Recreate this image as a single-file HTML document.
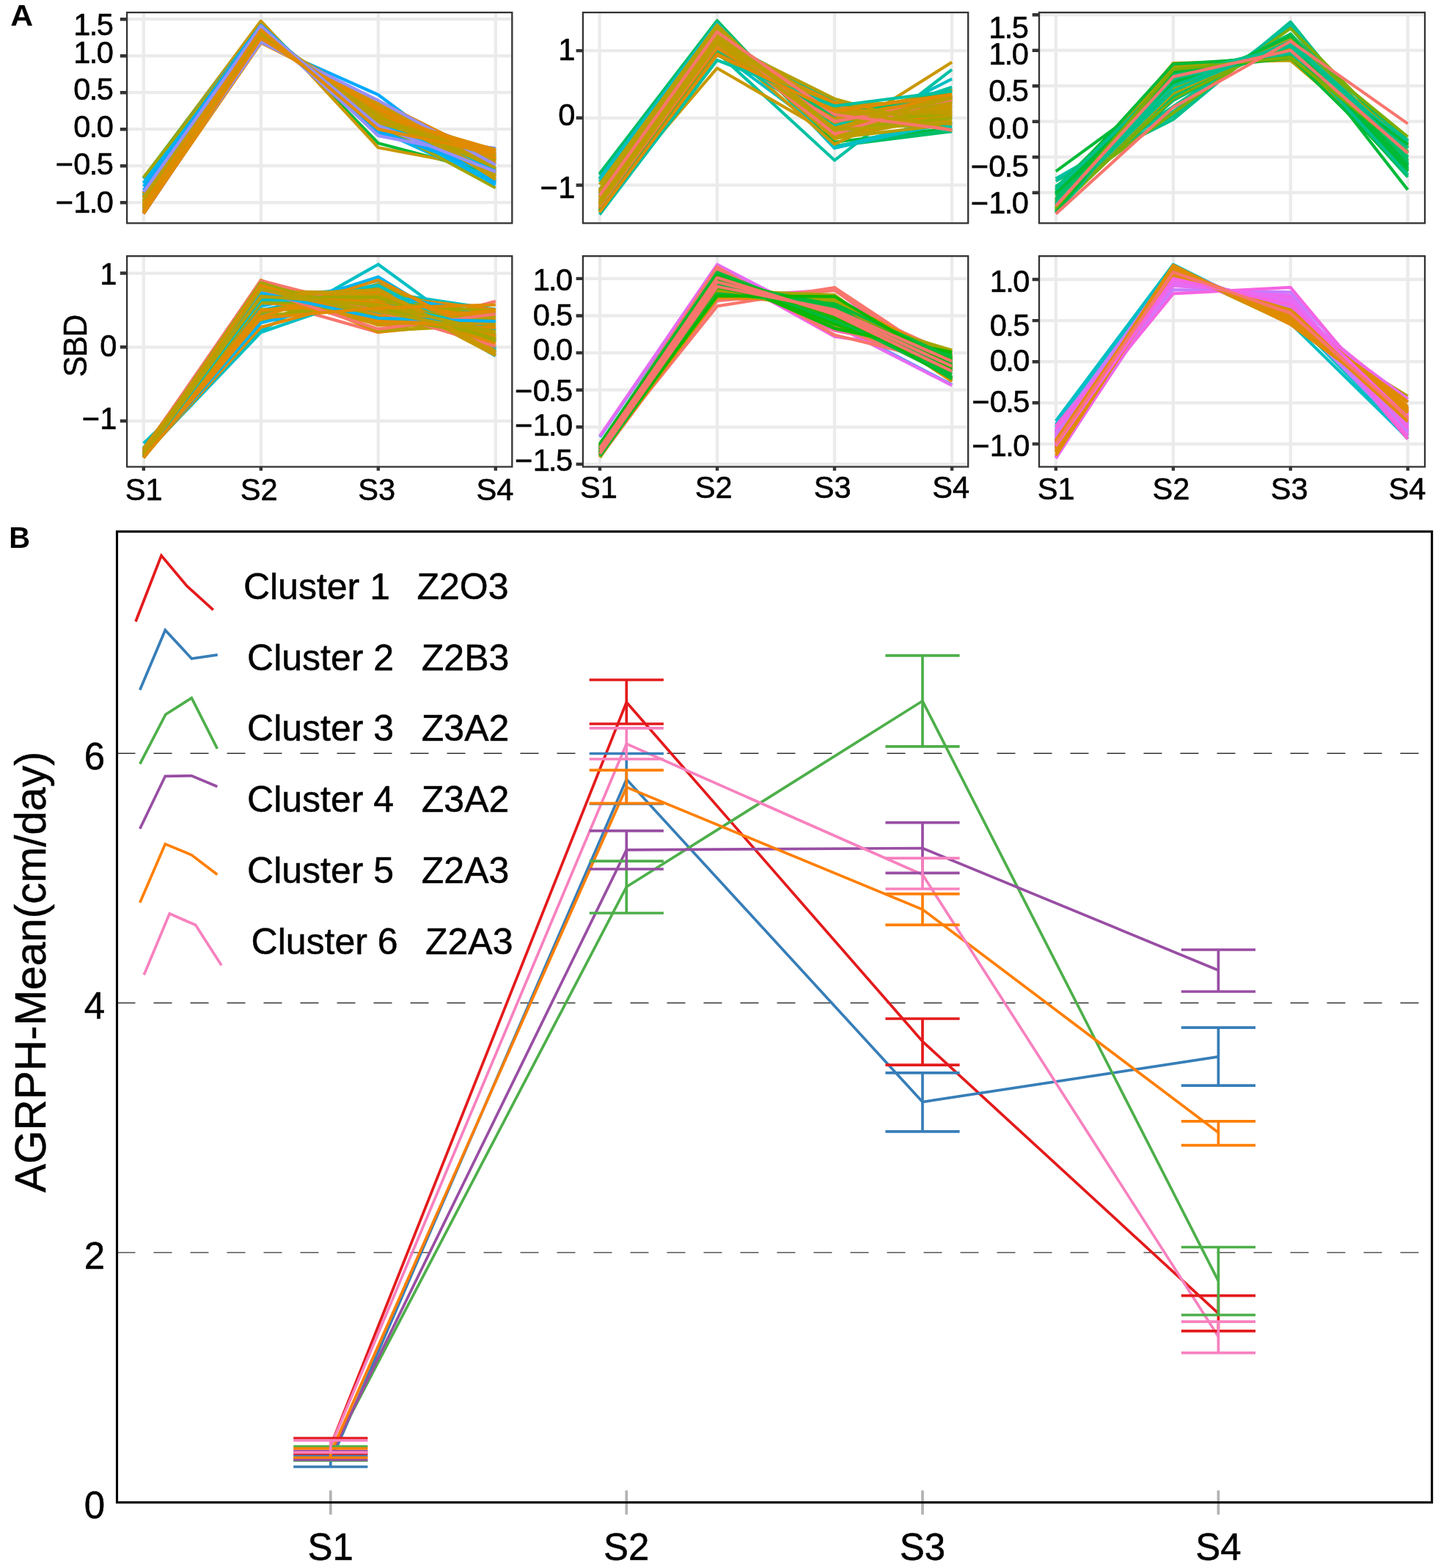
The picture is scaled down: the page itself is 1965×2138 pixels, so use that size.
<!DOCTYPE html>
<html lang="en"><head><meta charset="utf-8"><title>Figure: SBD clusters and AGRPH mean</title>
<style>html,body{margin:0;padding:0;background:#fff}body{width:1965px;height:2138px;overflow:hidden}svg{display:block}text{font-family:'Liberation Sans', Arial, Helvetica, sans-serif}</style>
</head><body>
<svg width="1965" height="2138" viewBox="0 0 1965 2138" font-family='"Liberation Sans", Arial, Helvetica, sans-serif'>
<rect width="1965" height="2138" fill="#FFFFFF"/>
<g class="panel" id="p1">
<rect x="173.1" y="17" width="525.2" height="287.3" fill="#FFFFFF"/>
<path d="M173.1 26.2H698.3M173.1 76.2H698.3M173.1 126.2H698.3M173.1 176.2H698.3M173.1 226.2H698.3M173.1 276.2H698.3M195.8 17V304.3M355.8 17V304.3M515.8 17V304.3M675.8 17V304.3" stroke="#EBEBEB" stroke-width="4.3" fill="none"/>
<g fill="none" stroke-width="4.2" stroke-linejoin="round" stroke-linecap="butt">
<polyline points="195.8,242.7 355.8,29.62 515.8,195.2 675.8,237.28" stroke="#00BA38"/>
<polyline points="195.8,243.79 355.8,28.61 515.8,201.2 675.8,231.2" stroke="#C99800"/>
<polyline points="195.8,279.56 355.8,39.84 515.8,183.2 675.8,202.2" stroke="#9590FF"/>
<polyline points="195.8,242.89 355.8,34.51 515.8,177.2 675.8,250.2" stroke="#00B4F0"/>
<polyline points="195.8,248.93 355.8,35.47 515.8,174.2 675.8,246.2" stroke="#00BAE0"/>
<polyline points="195.8,278.89 355.8,41.51 515.8,172.2 675.8,212.2" stroke="#F8766D"/>
<polyline points="195.8,269.28 355.8,58.12 515.8,129.2 675.8,248.2" stroke="#00A9FF"/>
<polyline points="195.8,241.7 355.8,37.4 515.8,169.5 675.8,256.2" stroke="#A3A500"/>
<polyline points="195.8,254.2 355.8,34.53 515.8,177.87 675.8,238.2" stroke="#00A9FF"/>
<polyline points="195.8,250.2 355.8,39.97 515.8,162.43 675.8,252.2" stroke="#00B4F0"/>
<polyline points="195.8,259.2 355.8,34.52 515.8,179.88 675.8,231.2" stroke="#00A9FF"/>
<polyline points="195.8,268.2 355.8,35.29 515.8,185.11 675.8,216.2" stroke="#9590FF"/>
<polyline points="195.8,281.02 355.8,45.01 515.8,162.41 675.8,216.35" stroke="#C99800"/>
<polyline points="195.8,289.57 355.8,50.58 515.8,156.92 675.8,207.72" stroke="#E08B00"/>
<polyline points="195.8,274.89 355.8,39.56 515.8,174.32 675.8,216.04" stroke="#E08B00"/>
<polyline points="195.8,273.24 355.8,47.13 515.8,150.92 675.8,233.51" stroke="#C09B00"/>
<polyline points="195.8,275.42 355.8,40.56 515.8,171.02 675.8,217.8" stroke="#B79F00"/>
<polyline points="195.8,270.55 355.8,46.73 515.8,150.64 675.8,236.89" stroke="#F8766D"/>
<polyline points="195.8,283.38 355.8,45.95 515.8,162.43 675.8,213.04" stroke="#C99800"/>
<polyline points="195.8,285.02 355.8,46.8 515.8,161.98 675.8,211" stroke="#C99800"/>
<polyline points="195.8,284.64 355.8,52.28 515.8,146.76 675.8,221.12" stroke="#F8766D"/>
<polyline points="195.8,281.25 355.8,43.4 515.8,168.37 675.8,211.78" stroke="#C99800"/>
<polyline points="195.8,273.69 355.8,47.32 515.8,150.7 675.8,233.09" stroke="#E08B00"/>
<polyline points="195.8,264.51 355.8,40.04 515.8,164.65 675.8,235.6" stroke="#B79F00"/>
<polyline points="195.8,288.85 355.8,48.37 515.8,163.12 675.8,204.46" stroke="#E08B00"/>
<polyline points="195.8,268.55 355.8,47.87 515.8,147.52 675.8,240.86" stroke="#C99800"/>
<polyline points="195.8,273.73 355.8,45.68 515.8,154.57 675.8,230.82" stroke="#C09B00"/>
<polyline points="195.8,288.88 355.8,50.98 515.8,154.69 675.8,210.25" stroke="#B79F00"/>
<polyline points="195.8,289.22 355.8,50.94 515.8,155.27 675.8,209.37" stroke="#C99800"/>
<polyline points="195.8,288.02 355.8,47.27 515.8,165.67 675.8,203.84" stroke="#C99800"/>
<polyline points="195.8,262.4 355.8,38.18 515.8,169.1 675.8,235.11" stroke="#00B4F0"/>
<polyline points="195.8,270.79 355.8,39.03 515.8,171.68 675.8,223.3" stroke="#B79F00"/>
<polyline points="195.8,265.37 355.8,39.45 515.8,166.69 675.8,233.29" stroke="#C09B00"/>
<polyline points="195.8,289.09 355.8,49.14 515.8,160.82 675.8,205.75" stroke="#00B4F0"/>
<polyline points="195.8,269.6 355.8,39.01 515.8,170.75 675.8,225.44" stroke="#C09B00"/>
<polyline points="195.8,265.55 355.8,47.22 515.8,148.08 675.8,243.95" stroke="#C09B00"/>
<polyline points="195.8,291.64 355.8,54.9 515.8,147.97 675.8,210.29" stroke="#9590FF"/>
<polyline points="195.8,283.71 355.8,49.97 515.8,151.42 675.8,219.71" stroke="#B79F00"/>
<polyline points="195.8,278.48 355.8,42.67 515.8,167.13 675.8,216.53" stroke="#C99800"/>
<polyline points="195.8,288.76 355.8,48.87 515.8,161.13 675.8,206.04" stroke="#C99800"/>
<polyline points="195.8,286.52 355.8,45.81 515.8,168.54 675.8,203.92" stroke="#00B4F0"/>
<polyline points="195.8,262.77 355.8,37.99 515.8,169.84 675.8,234.2" stroke="#B79F00"/>
<polyline points="195.8,290.11 355.8,50.13 515.8,159.27 675.8,205.28" stroke="#B79F00"/>
<polyline points="195.8,279.81 355.8,44.88 515.8,161.46 675.8,218.65" stroke="#C99800"/>
<polyline points="195.8,274.22 355.8,39.09 515.8,175.39 675.8,216.1" stroke="#C09B00"/>
<polyline points="195.8,291.03 355.8,52.21 515.8,154.35 675.8,207.21" stroke="#E08B00"/>
<polyline points="195.8,283.58 355.8,48.07 515.8,156.26 675.8,216.88" stroke="#E08B00"/>
<polyline points="195.8,264.13 355.8,39.18 515.8,166.92 675.8,234.57" stroke="#C99800"/>
<polyline points="195.8,290.66 355.8,54.84 515.8,146.88 675.8,212.42" stroke="#E08B00"/>
<polyline points="195.8,269.95 355.8,41.5 515.8,163.29 675.8,230.06" stroke="#C99800"/>
<polyline points="195.8,267.33 355.8,50.3 515.8,142.4 675.8,244.77" stroke="#C99800"/>
<polyline points="195.8,284.9 355.8,46.81 515.8,161.75 675.8,211.34" stroke="#C09B00"/>
<polyline points="195.8,279.95 355.8,53.54 515.8,140.87 675.8,230.44" stroke="#C99800"/>
<polyline points="195.8,275.47 355.8,41.68 515.8,167.11 675.8,220.54" stroke="#B79F00"/>
<polyline points="195.8,266.81 355.8,39.07 515.8,168.62 675.8,230.3" stroke="#00B4F0"/>
<polyline points="195.8,268.72 355.8,46.47 515.8,150.55 675.8,239.07" stroke="#C09B00"/>
<polyline points="195.8,281.55 355.8,44.91 515.8,163.39 675.8,214.95" stroke="#E08B00"/>
<polyline points="195.8,288.48 355.8,48.75 515.8,161.05 675.8,206.53" stroke="#C99800"/>
<polyline points="195.8,289.37 355.8,51.31 515.8,154.43 675.8,209.69" stroke="#C99800"/>
<polyline points="195.8,264.22 355.8,43.25 515.8,156.44 675.8,240.89" stroke="#C09B00"/>
<polyline points="195.8,285.22 355.8,45.38 515.8,167.57 675.8,206.63" stroke="#E08B00"/>
<polyline points="195.8,289.95 355.8,58.47 515.8,138.24 675.8,218.14" stroke="#E08B00"/>
<polyline points="195.8,277.23 355.8,42.67 515.8,165.67 675.8,219.22" stroke="#B79F00"/>
<polyline points="195.8,283.04 355.8,51.66 515.8,146.86 675.8,223.25" stroke="#E08B00"/>
<polyline points="195.8,285.64 355.8,57.37 515.8,136.98 675.8,224.81" stroke="#9590FF"/>
<polyline points="195.8,281.02 355.8,43.59 515.8,167.28 675.8,212.91" stroke="#B79F00"/>
<polyline points="195.8,283.83 355.8,46.85 515.8,160.13 675.8,213.98" stroke="#C09B00"/>
<polyline points="195.8,291.46 355.8,51.37 515.8,157.68 675.8,204.29" stroke="#E08B00"/>
<polyline points="195.8,273.42 355.8,44.07 515.8,158.44 675.8,228.87" stroke="#B79F00"/>
<polyline points="195.8,287.3 355.8,52.19 515.8,149.52 675.8,215.79" stroke="#E08B00"/>
<polyline points="195.8,261.86 355.8,37.42 515.8,171.22 675.8,234.31" stroke="#9590FF"/>
<polyline points="195.8,278.88 355.8,40.66 515.8,176.09 675.8,209.16" stroke="#E08B00"/>
</g>
<rect x="173.1" y="17" width="525.2" height="287.3" fill="none" stroke="#333333" stroke-width="2.3"/>
<path d="M163.8 26.2H173.1M163.8 76.2H173.1M163.8 126.2H173.1M163.8 176.2H173.1M163.8 226.2H173.1M163.8 276.2H173.1" stroke="#333333" stroke-width="4.4" fill="none"/>
<g font-size="41.6" fill="#000000" letter-spacing="-1.7" stroke="#000000" stroke-width="0.6">
<text x="153.1" y="48" text-anchor="end">1.5</text>
<text x="153.1" y="85.5" text-anchor="end">1.0</text>
<text x="153.1" y="136.4" text-anchor="end">0.5</text>
<text x="153.1" y="187.2" text-anchor="end">0.0</text>
<text x="153.1" y="238" text-anchor="end"><tspan letter-spacing="0.3">−</tspan>0.5</text>
<text x="153.1" y="289.7" text-anchor="end"><tspan letter-spacing="0.3">−</tspan>1.0</text>
</g>
</g>
<g class="panel" id="p2">
<rect x="794.9" y="17" width="525.3" height="287.3" fill="#FFFFFF"/>
<path d="M794.9 69.15H1320.2M794.9 160.8H1320.2M794.9 252.45H1320.2M817.6 17V304.3M977.9 17V304.3M1138 17V304.3M1298.1 17V304.3" stroke="#EBEBEB" stroke-width="4.3" fill="none"/>
<g fill="none" stroke-width="4.2" stroke-linejoin="round" stroke-linecap="butt">
<polyline points="817.6,258.4 977.9,71.44 1138,218.54 1298.1,94.81" stroke="#00C1A3"/>
<polyline points="817.6,236.71 977.9,28.06 1138,199.29 1298.1,179.13" stroke="#00BE67"/>
<polyline points="817.6,243.78 977.9,31.99 1138,202.04 1298.1,165.38" stroke="#00BFC4"/>
<polyline points="817.6,276.8 977.9,70.46 1138,188.3 1298.1,107.64" stroke="#00BFC4"/>
<polyline points="817.6,244.27 977.9,30.59 1138,193.79 1298.1,174.55" stroke="#00BA38"/>
<polyline points="817.6,279.97 977.9,92.98 1138,185.52 1298.1,84.73" stroke="#C99800"/>
<polyline points="817.6,238.7 977.9,28.82 1138,199.03 1298.1,176.64" stroke="#00BE67"/>
<polyline points="817.6,243.29 977.9,31.57 1138,201.54 1298.1,166.8" stroke="#00BFC4"/>
<polyline points="817.6,247.87 977.9,34.32 1138,201.06 1298.1,159.94" stroke="#00BFC4"/>
<polyline points="817.6,284.48 977.9,65.26 1138,160.52 1298.1,132.94" stroke="#A3A500"/>
<polyline points="817.6,287.2 977.9,72.91 1138,160.99 1298.1,122.1" stroke="#C99800"/>
<polyline points="817.6,287.71 977.9,68.74 1138,145.73 1298.1,141.03" stroke="#A3A500"/>
<polyline points="817.6,277.33 977.9,53.22 1138,154.4 1298.1,158.25" stroke="#00C1A3"/>
<polyline points="817.6,268.24 977.9,56.74 1138,196.68 1298.1,121.54" stroke="#C99800"/>
<polyline points="817.6,284.59 977.9,63.18 1138,146.38 1298.1,149.04" stroke="#F8766D"/>
<polyline points="817.6,282.61 977.9,60.61 1138,156.72 1298.1,143.26" stroke="#C99800"/>
<polyline points="817.6,261.19 977.9,39.09 1138,177.84 1298.1,165.08" stroke="#C09B00"/>
<polyline points="817.6,283.98 977.9,64.46 1138,161.24 1298.1,133.51" stroke="#00BFC4"/>
<polyline points="817.6,272.63 977.9,51.91 1138,138.93 1298.1,179.73" stroke="#00C1A3"/>
<polyline points="817.6,251.83 977.9,33.95 1138,188.21 1298.1,169.21" stroke="#B79F00"/>
<polyline points="817.6,276.72 977.9,55.5 1138,173.04 1298.1,137.94" stroke="#A3A500"/>
<polyline points="817.6,286.33 977.9,67.01 1138,153.33 1298.1,136.53" stroke="#E08B00"/>
<polyline points="817.6,261.63 977.9,39.09 1138,170.78 1298.1,171.7" stroke="#C99800"/>
<polyline points="817.6,288.22 977.9,74.16 1138,158.08 1298.1,122.74" stroke="#C09B00"/>
<polyline points="817.6,274.9 977.9,50.47 1138,157.95 1298.1,159.89" stroke="#F8766D"/>
<polyline points="817.6,286.52 977.9,66.47 1138,144.14 1298.1,146.06" stroke="#C99800"/>
<polyline points="817.6,288.94 977.9,71.18 1138,143.19 1298.1,139.89" stroke="#00BE67"/>
<polyline points="817.6,261.54 977.9,39.1 1138,174.44 1298.1,168.12" stroke="#F8766D"/>
<polyline points="817.6,284.09 977.9,62.82 1138,154.38 1298.1,141.91" stroke="#C99800"/>
<polyline points="817.6,278.89 977.9,55.13 1138,152.17 1298.1,157.01" stroke="#C99800"/>
<polyline points="817.6,264.94 977.9,41.66 1138,163.41 1298.1,173.19" stroke="#00C1A3"/>
<polyline points="817.6,273.28 977.9,54.95 1138,183.2 1298.1,131.78" stroke="#F8766D"/>
<polyline points="817.6,259.67 977.9,38.95 1138,184.79 1298.1,159.79" stroke="#B79F00"/>
<polyline points="817.6,268.98 977.9,46.67 1138,178.82 1298.1,148.72" stroke="#C09B00"/>
<polyline points="817.6,277.07 977.9,54.23 1138,167.71 1298.1,144.19" stroke="#F8766D"/>
<polyline points="817.6,262.86 977.9,42.18 1138,186.03 1298.1,152.14" stroke="#E08B00"/>
<polyline points="817.6,273.19 977.9,48.76 1138,163.28 1298.1,157.97" stroke="#E08B00"/>
<polyline points="817.6,284.38 977.9,65.45 1138,161.47 1298.1,131.9" stroke="#C99800"/>
<polyline points="817.6,289.38 977.9,72.12 1138,142.58 1298.1,139.11" stroke="#C99800"/>
<polyline points="817.6,276.95 977.9,53.99 1138,167.45 1298.1,144.81" stroke="#C99800"/>
<polyline points="817.6,274.98 977.9,53.64 1138,175.38 1298.1,139.2" stroke="#C09B00"/>
<polyline points="817.6,277.46 977.9,58.93 1138,176.87 1298.1,129.94" stroke="#E08B00"/>
<polyline points="817.6,287.9 977.9,74.15 1138,159.52 1298.1,121.62" stroke="#C99800"/>
<polyline points="817.6,283.15 977.9,69.42 1138,171.77 1298.1,118.86" stroke="#00C1A3"/>
<polyline points="817.6,284.28 977.9,63.4 1138,139.87 1298.1,155.64" stroke="#E08B00"/>
<polyline points="817.6,284.29 977.9,62.86 1138,151.85 1298.1,144.19" stroke="#C99800"/>
<polyline points="817.6,273.44 977.9,49.09 1138,164.27 1298.1,156.4" stroke="#A3A500"/>
<polyline points="817.6,289.65 977.9,75.05 1138,151.82 1298.1,126.68" stroke="#B79F00"/>
<polyline points="817.6,288.45 977.9,72.09 1138,153.09 1298.1,129.57" stroke="#E08B00"/>
<polyline points="817.6,277.6 977.9,53.73 1138,160.7 1298.1,151.17" stroke="#C09B00"/>
<polyline points="817.6,284.89 977.9,65.5 1138,158.73 1298.1,134.09" stroke="#E08B00"/>
<polyline points="817.6,287.85 977.9,72.47 1138,157.34 1298.1,125.54" stroke="#00BE67"/>
<polyline points="817.6,268.65 977.9,50.45 1138,188.38 1298.1,135.71" stroke="#B79F00"/>
<polyline points="817.6,258.75 977.9,39.22 1138,189.13 1298.1,156.1" stroke="#C09B00"/>
<polyline points="817.6,263.81 977.9,41.16 1138,177.39 1298.1,160.85" stroke="#A3A500"/>
<polyline points="817.6,282.29 977.9,59.65 1138,151.18 1298.1,150.08" stroke="#C99800"/>
<polyline points="817.6,281.19 977.9,60.48 1138,165.58 1298.1,135.95" stroke="#F8766D"/>
<polyline points="817.6,273.68 977.9,55.32 1138,182.63 1298.1,131.57" stroke="#F8766D"/>
<polyline points="817.6,277.41 977.9,57.5 1138,174.66 1298.1,133.62" stroke="#B79F00"/>
<polyline points="817.6,278.36 977.9,59.53 1138,174.9 1298.1,130.4" stroke="#C09B00"/>
<polyline points="817.6,275.22 977.9,55.29 1138,134.73 1298.1,177.96" stroke="#B79F00"/>
<polyline points="817.6,270.36 977.9,47.97 1138,147.25 1298.1,177.62" stroke="#C09B00"/>
<polyline points="817.6,260.08 977.9,38.21 1138,176.98 1298.1,167.93" stroke="#B79F00"/>
<polyline points="817.6,279.85 977.9,56.33 1138,155.24 1298.1,151.78" stroke="#C09B00"/>
<polyline points="817.6,292.62 977.9,81.98 1138,144.46 1298.1,124.14" stroke="#00C1A3"/>
<polyline points="817.6,266.4 977.9,43.49 1138,156.22 1298.1,177.1" stroke="#F8766D"/>
<polyline points="817.6,289.24 977.9,73.73 1138,151.64 1298.1,128.59" stroke="#E08B00"/>
</g>
<rect x="794.9" y="17" width="525.3" height="287.3" fill="none" stroke="#333333" stroke-width="2.3"/>
<path d="M785.6 69.15H794.9M785.6 160.8H794.9M785.6 252.45H794.9" stroke="#333333" stroke-width="4.4" fill="none"/>
<g font-size="41.6" fill="#000000" letter-spacing="-1.7" stroke="#000000" stroke-width="0.6">
<text x="782.6" y="81.5" text-anchor="end">1</text>
<text x="782.6" y="171.3" text-anchor="end">0</text>
<text x="782.6" y="269.5" text-anchor="end"><tspan letter-spacing="0.3">−</tspan>1</text>
</g>
</g>
<g class="panel" id="p3">
<rect x="1417" y="17" width="526" height="287.3" fill="#FFFFFF"/>
<path d="M1417 20.2H1943M1417 68.7H1943M1417 117.2H1943M1417 165.7H1943M1417 214.2H1943M1417 262.7H1943M1439.8 17V304.3M1599.9 17V304.3M1759.8 17V304.3M1919.7 17V304.3" stroke="#EBEBEB" stroke-width="4.3" fill="none"/>
<g fill="none" stroke-width="4.2" stroke-linejoin="round" stroke-linecap="butt">
<polyline points="1439.8,233.6 1599.9,116.67 1759.8,53.71 1919.7,258.82" stroke="#00BA38"/>
<polyline points="1439.8,243.91 1599.9,162.79 1759.8,29.9 1919.7,226.2" stroke="#00C08B"/>
<polyline points="1439.8,247 1599.9,157.94 1759.8,31.84 1919.7,226.02" stroke="#00C08B"/>
<polyline points="1439.8,243.67 1599.9,152.12 1759.8,33.78 1919.7,233.23" stroke="#00C1A3"/>
<polyline points="1439.8,254.14 1599.9,145.33 1759.8,37.66 1919.7,225.67" stroke="#00C08B"/>
<polyline points="1439.8,255.91 1599.9,100.2 1759.8,65.33 1919.7,241.36" stroke="#00BE67"/>
<polyline points="1439.8,259.79 1599.9,91.33 1759.8,73.23 1919.7,238.45" stroke="#00BA38"/>
<polyline points="1439.8,269.15 1599.9,154.06 1759.8,38.63 1919.7,200.96" stroke="#7CAE00"/>
<polyline points="1439.8,276.02 1599.9,86.16 1759.8,82.28 1919.7,218.34" stroke="#B79F00"/>
<polyline points="1439.8,275.82 1599.9,88.1 1759.8,80.34 1919.7,218.54" stroke="#A3A500"/>
<polyline points="1439.8,275.49 1599.9,90.04 1759.8,78.4 1919.7,218.87" stroke="#B79F00"/>
<polyline points="1439.8,272.34 1599.9,91.98 1759.8,75.49 1919.7,222.99" stroke="#A3A500"/>
<polyline points="1439.8,266.1 1599.9,101.88 1759.8,65.54 1919.7,229.28" stroke="#39B600"/>
<polyline points="1439.8,286.86 1599.9,109.02 1759.8,69.21 1919.7,197.71" stroke="#39B600"/>
<polyline points="1439.8,271.55 1599.9,99.2 1759.8,69.13 1919.7,222.93" stroke="#00C08B"/>
<polyline points="1439.8,260.34 1599.9,115.89 1759.8,54.45 1919.7,232.12" stroke="#00C1A3"/>
<polyline points="1439.8,289.18 1599.9,115.78 1759.8,66.54 1919.7,191.31" stroke="#7CAE00"/>
<polyline points="1439.8,289.58 1599.9,106.15 1759.8,73.26 1919.7,193.8" stroke="#00C08B"/>
<polyline points="1439.8,285.66 1599.9,111.78 1759.8,66.54 1919.7,198.82" stroke="#B79F00"/>
<polyline points="1439.8,272.43 1599.9,136.19 1759.8,46.52 1919.7,207.66" stroke="#7CAE00"/>
<polyline points="1439.8,283.34 1599.9,116.64 1759.8,62.02 1919.7,200.79" stroke="#00C1A3"/>
<polyline points="1439.8,282.65 1599.9,136.79 1759.8,51.54 1919.7,191.81" stroke="#00BE67"/>
<polyline points="1439.8,273 1599.9,110.79 1759.8,61 1919.7,218.01" stroke="#00BE67"/>
<polyline points="1439.8,262.78 1599.9,107.33 1759.8,60.77 1919.7,231.92" stroke="#A3A500"/>
<polyline points="1439.8,286.72 1599.9,133.82 1759.8,55.59 1919.7,186.67" stroke="#7CAE00"/>
<polyline points="1439.8,277.39 1599.9,117.57 1759.8,58.37 1919.7,209.47" stroke="#7CAE00"/>
<polyline points="1439.8,285.4 1599.9,117.65 1759.8,62.71 1919.7,197.04" stroke="#00BA38"/>
<polyline points="1439.8,273.38 1599.9,117.05 1759.8,57.05 1919.7,215.32" stroke="#00BE67"/>
<polyline points="1439.8,264.24 1599.9,131.27 1759.8,46.25 1919.7,221.04" stroke="#00BE67"/>
<polyline points="1439.8,266.61 1599.9,117.15 1759.8,54.92 1919.7,224.12" stroke="#00BE67"/>
<polyline points="1439.8,279.55 1599.9,127.56 1759.8,53.87 1919.7,201.82" stroke="#00BE67"/>
<polyline points="1439.8,265.29 1599.9,107.74 1759.8,60.97 1919.7,228.8" stroke="#00BE67"/>
<polyline points="1439.8,276.19 1599.9,111.06 1759.8,62.03 1919.7,213.52" stroke="#00BE67"/>
<polyline points="1439.8,290.78 1599.9,108.81 1759.8,72.36 1919.7,190.85" stroke="#00C08B"/>
<polyline points="1439.8,262.97 1599.9,112.4 1759.8,57.24 1919.7,230.2" stroke="#00BA38"/>
<polyline points="1439.8,285.08 1599.9,119.79 1759.8,61.26 1919.7,196.66" stroke="#A3A500"/>
<polyline points="1439.8,262.85 1599.9,106.36 1759.8,61.49 1919.7,232.09" stroke="#00BA38"/>
<polyline points="1439.8,262.76 1599.9,125.67 1759.8,48.93 1919.7,225.44" stroke="#00BA38"/>
<polyline points="1439.8,279.62 1599.9,127 1759.8,54.19 1919.7,201.99" stroke="#B79F00"/>
<polyline points="1439.8,263.78 1599.9,87.3 1759.8,77.55 1919.7,234.18" stroke="#00BA38"/>
<polyline points="1439.8,280.75 1599.9,103.93 1759.8,69.22 1919.7,208.9" stroke="#00BE67"/>
<polyline points="1439.8,288.94 1599.9,106.71 1759.8,72.36 1919.7,194.79" stroke="#00C08B"/>
<polyline points="1439.8,257.99 1599.9,103.34 1759.8,63.06 1919.7,238.4" stroke="#00C08B"/>
<polyline points="1439.8,280.18 1599.9,123.85 1759.8,56.13 1919.7,202.64" stroke="#00C08B"/>
<polyline points="1439.8,288.71 1599.9,98.26 1759.8,78.74 1919.7,197.09" stroke="#00BA38"/>
<polyline points="1439.8,283.31 1599.9,94.77 1759.8,78.04 1919.7,206.68" stroke="#7CAE00"/>
<polyline points="1439.8,278.27 1599.9,117.2 1759.8,59 1919.7,208.33" stroke="#00C08B"/>
<polyline points="1439.8,291.64 1599.9,146.3 1759.8,56.25 1919.7,168.61" stroke="#F8766D"/>
<polyline points="1439.8,280.7 1599.9,104.59 1759.8,68.7 1919.7,208.81" stroke="#F8766D"/>
</g>
<rect x="1417" y="17" width="526" height="287.3" fill="none" stroke="#333333" stroke-width="2.3"/>
<path d="M1407.7 20.2H1417M1407.7 68.7H1417M1407.7 117.2H1417M1407.7 165.7H1417M1407.7 214.2H1417M1407.7 262.7H1417" stroke="#333333" stroke-width="4.4" fill="none"/>
<g font-size="41.6" fill="#000000" letter-spacing="-1.7" stroke="#000000" stroke-width="0.6">
<text x="1401.1" y="52.2" text-anchor="end">1.5</text>
<text x="1401.1" y="87.7" text-anchor="end">1.0</text>
<text x="1401.1" y="138.3" text-anchor="end">0.5</text>
<text x="1401.1" y="189.3" text-anchor="end">0.0</text>
<text x="1401.1" y="240.5" text-anchor="end"><tspan letter-spacing="0.3">−</tspan>0.5</text>
<text x="1401.1" y="291.3" text-anchor="end"><tspan letter-spacing="0.3">−</tspan>1.0</text>
</g>
</g>
<g class="panel" id="p4">
<rect x="173.1" y="349.2" width="525.2" height="287.3" fill="#FFFFFF"/>
<path d="M173.1 372.55H698.3M173.1 473.3H698.3M173.1 574.05H698.3M195.8 349.2V636.5M355.8 349.2V636.5M515.8 349.2V636.5M675.8 349.2V636.5" stroke="#EBEBEB" stroke-width="4.3" fill="none"/>
<g fill="none" stroke-width="4.2" stroke-linejoin="round" stroke-linecap="butt">
<polyline points="195.8,604.5 355.8,451.13 515.8,360.46 675.8,477.11" stroke="#00BFC4"/>
<polyline points="195.8,621.22 355.8,408 515.8,453.15 675.8,410.84" stroke="#F8766D"/>
<polyline points="195.8,620.54 355.8,453.15 515.8,397.74 675.8,421.77" stroke="#00BFC4"/>
<polyline points="195.8,611.15 355.8,403.96 515.8,392.7 675.8,485.39" stroke="#00B4F0"/>
<polyline points="195.8,611.44 355.8,417.78 515.8,382.62 675.8,481.36" stroke="#00B4F0"/>
<polyline points="195.8,615.09 355.8,400.02 515.8,402.78 675.8,475.31" stroke="#00BAE0"/>
<polyline points="195.8,622.07 355.8,446.1 515.8,402.78 675.8,422.26" stroke="#E08B00"/>
<polyline points="195.8,611.97 355.8,427.96 515.8,377.59 675.8,475.68" stroke="#00B4F0"/>
<polyline points="195.8,616.57 355.8,422.93 515.8,387.66 675.8,466.04" stroke="#00B4F0"/>
<polyline points="195.8,620.24 355.8,410.27 515.8,405.21 675.8,457.48" stroke="#00BFC4"/>
<polyline points="195.8,624.42 355.8,421.83 515.8,423.56 675.8,423.39" stroke="#A3A500"/>
<polyline points="195.8,622.71 355.8,404.9 515.8,442 675.8,423.59" stroke="#E08B00"/>
<polyline points="195.8,621.19 355.8,394.7 515.8,438.86 675.8,438.45" stroke="#B79F00"/>
<polyline points="195.8,622.95 355.8,404.21 515.8,428.75 675.8,437.29" stroke="#E08B00"/>
<polyline points="195.8,617.9 355.8,384.65 515.8,453.02 675.8,437.64" stroke="#E08B00"/>
<polyline points="195.8,622.76 355.8,403.58 515.8,427.41 675.8,439.44" stroke="#B79F00"/>
<polyline points="195.8,618.02 355.8,384.35 515.8,441.02 675.8,449.81" stroke="#B79F00"/>
<polyline points="195.8,613.28 355.8,410.88 515.8,390.07 675.8,478.97" stroke="#B79F00"/>
<polyline points="195.8,617.18 355.8,381.98 515.8,450.92 675.8,443.12" stroke="#B79F00"/>
<polyline points="195.8,623.75 355.8,409.91 515.8,431.91 675.8,427.63" stroke="#C99800"/>
<polyline points="195.8,621.28 355.8,405.11 515.8,414.42 675.8,452.4" stroke="#C99800"/>
<polyline points="195.8,623.04 355.8,404.8 515.8,437.07 675.8,428.29" stroke="#C99800"/>
<polyline points="195.8,619.27 355.8,387.74 515.8,443.49 675.8,442.71" stroke="#B79F00"/>
<polyline points="195.8,620.05 355.8,399.1 515.8,417.27 675.8,456.78" stroke="#00B4F0"/>
<polyline points="195.8,622.57 355.8,402.72 515.8,427.16 675.8,440.75" stroke="#B79F00"/>
<polyline points="195.8,619.02 355.8,386.99 515.8,442.67 675.8,444.52" stroke="#E08B00"/>
<polyline points="195.8,618.28 355.8,426.65 515.8,389.34 675.8,458.93" stroke="#A3A500"/>
<polyline points="195.8,620.63 355.8,423.96 515.8,396.83 675.8,451.78" stroke="#A3A500"/>
<polyline points="195.8,618.94 355.8,437.91 515.8,387.27 675.8,449.07" stroke="#B79F00"/>
<polyline points="195.8,623.46 355.8,407.21 515.8,430.24 675.8,432.29" stroke="#A3A500"/>
<polyline points="195.8,619.55 355.8,390.51 515.8,431.72 675.8,451.43" stroke="#E08B00"/>
<polyline points="195.8,622.97 355.8,403.88 515.8,430.68 675.8,435.67" stroke="#B79F00"/>
<polyline points="195.8,618.84 355.8,407.62 515.8,403.64 675.8,463.1" stroke="#B79F00"/>
<polyline points="195.8,615.43 355.8,383.72 515.8,426.46 675.8,467.6" stroke="#C99800"/>
<polyline points="195.8,622.39 355.8,440.25 515.8,401.13 675.8,429.44" stroke="#00B4F0"/>
<polyline points="195.8,614 355.8,384.28 515.8,421.03 675.8,473.89" stroke="#E08B00"/>
<polyline points="195.8,623.74 355.8,423.14 515.8,411.43 675.8,434.89" stroke="#E08B00"/>
<polyline points="195.8,622.19 355.8,401.63 515.8,425.63 675.8,443.75" stroke="#C99800"/>
<polyline points="195.8,614.81 355.8,415.54 515.8,389.11 675.8,473.74" stroke="#00BFC4"/>
<polyline points="195.8,619.13 355.8,405.65 515.8,406.35 675.8,462.08" stroke="#E08B00"/>
<polyline points="195.8,623.86 355.8,413 515.8,422.03 675.8,434.31" stroke="#E08B00"/>
<polyline points="195.8,611.85 355.8,401.63 515.8,395.79 675.8,483.93" stroke="#A3A500"/>
<polyline points="195.8,611.61 355.8,396.19 515.8,400.84 675.8,484.55" stroke="#C99800"/>
<polyline points="195.8,620.18 355.8,392.51 515.8,449.41 675.8,431.1" stroke="#B79F00"/>
<polyline points="195.8,622.67 355.8,402.2 515.8,430.79 675.8,437.55" stroke="#A3A500"/>
<polyline points="195.8,620.19 355.8,408.58 515.8,406.62 675.8,457.82" stroke="#A3A500"/>
<polyline points="195.8,620.21 355.8,390.96 515.8,439.5 675.8,442.53" stroke="#E08B00"/>
<polyline points="195.8,622.1 355.8,406.02 515.8,417.37 675.8,447.72" stroke="#A3A500"/>
<polyline points="195.8,620.56 355.8,409.6 515.8,406.85 675.8,456.2" stroke="#C99800"/>
<polyline points="195.8,623.5 355.8,408.85 515.8,435.99 675.8,424.87" stroke="#E08B00"/>
<polyline points="195.8,617.24 355.8,399.48 515.8,408.03 675.8,468.45" stroke="#E08B00"/>
<polyline points="195.8,622.81 355.8,404.29 515.8,426.11 675.8,440" stroke="#B79F00"/>
<polyline points="195.8,622.75 355.8,402.57 515.8,436.52 675.8,431.36" stroke="#B79F00"/>
<polyline points="195.8,619.24 355.8,411.79 515.8,401.05 675.8,461.12" stroke="#B79F00"/>
<polyline points="195.8,618.79 355.8,399.48 515.8,412.3 675.8,462.63" stroke="#A3A500"/>
<polyline points="195.8,620.32 355.8,392.75 515.8,431.71 675.8,448.42" stroke="#B79F00"/>
<polyline points="195.8,619.17 355.8,391.74 515.8,426.09 675.8,456.19" stroke="#00B4F0"/>
<polyline points="195.8,619.75 355.8,407.63 515.8,406.2 675.8,459.62" stroke="#C99800"/>
<polyline points="195.8,623.99 355.8,431.68 515.8,413.04 675.8,424.49" stroke="#A3A500"/>
<polyline points="195.8,623.5 355.8,409.58 515.8,436.78 675.8,423.34" stroke="#E08B00"/>
<polyline points="195.8,620.54 355.8,394.05 515.8,429.82 675.8,448.8" stroke="#E08B00"/>
<polyline points="195.8,623.04 355.8,411.93 515.8,415.74 675.8,442.49" stroke="#A3A500"/>
<polyline points="195.8,616.05 355.8,407.67 515.8,397.37 675.8,472.1" stroke="#E08B00"/>
<polyline points="195.8,614.06 355.8,382.45 515.8,424.47 675.8,472.22" stroke="#F8766D"/>
<polyline points="195.8,615.69 355.8,431.91 515.8,381.8 675.8,463.79" stroke="#E08B00"/>
<polyline points="195.8,618.24 355.8,393.55 515.8,418.79 675.8,462.62" stroke="#A3A500"/>
<polyline points="195.8,612.8 355.8,395.92 515.8,403.03 675.8,481.45" stroke="#C99800"/>
<polyline points="195.8,621.9 355.8,408.41 515.8,413.36 675.8,449.52" stroke="#00BFC4"/>
<polyline points="195.8,620.81 355.8,395.49 515.8,448.66 675.8,428.24" stroke="#F8766D"/>
<polyline points="195.8,617.76 355.8,385.5 515.8,433.38 675.8,456.56" stroke="#A3A500"/>
<polyline points="195.8,620.28 355.8,403.25 515.8,412.67 675.8,457.01" stroke="#E08B00"/>
<polyline points="195.8,620.29 355.8,391.22 515.8,440.77 675.8,440.91" stroke="#C99800"/>
<polyline points="195.8,619.55 355.8,389.05 515.8,437.63 675.8,446.98" stroke="#E08B00"/>
<polyline points="195.8,618.4 355.8,404.97 515.8,405.05 675.8,464.78" stroke="#A3A500"/>
<polyline points="195.8,613.13 355.8,404.85 515.8,394.8 675.8,480.42" stroke="#C99800"/>
<polyline points="195.8,622.15 355.8,399.19 515.8,433.83 675.8,438.03" stroke="#00B4F0"/>
<polyline points="195.8,619.93 355.8,394.38 515.8,424.78 675.8,454.11" stroke="#B79F00"/>
<polyline points="195.8,621.16 355.8,403.79 515.8,415.57 675.8,452.67" stroke="#B79F00"/>
<polyline points="195.8,623.99 355.8,433.6 515.8,419.97 675.8,415.64" stroke="#E08B00"/>
</g>
<rect x="173.1" y="349.2" width="525.2" height="287.3" fill="none" stroke="#333333" stroke-width="2.3"/>
<path d="M163.8 372.55H173.1M163.8 473.3H173.1M163.8 574.05H173.1M195.8 636.5V641.7M355.8 636.5V641.7M515.8 636.5V641.7M675.8 636.5V641.7" stroke="#333333" stroke-width="4.4" fill="none"/>
<g font-size="41.6" fill="#000000" letter-spacing="-1.7" stroke="#000000" stroke-width="0.6">
<text x="157.8" y="387.5" text-anchor="end">1</text>
<text x="157.8" y="485.7" text-anchor="end">0</text>
<text x="157.8" y="584.6" text-anchor="end"><tspan letter-spacing="0.3">−</tspan>1</text>
</g>
<g font-size="41.6" fill="#000000" stroke="#000000" stroke-width="0.6">
<text x="170.8" y="681.5">S1</text>
<text x="327.7" y="681.5">S2</text>
<text x="488.3" y="681.5">S3</text>
<text x="649.5" y="681.5">S4</text>
</g>
<text font-size="45" stroke="#000" stroke-width="0.5" fill="#000000" letter-spacing="-1.2" text-anchor="middle" transform="translate(118.3,471.9) rotate(-90) scale(0.95,1)">SBD</text>
</g>
<g class="panel" id="p5">
<rect x="794.9" y="349.2" width="525.3" height="287.3" fill="#FFFFFF"/>
<path d="M794.9 379.9H1320.2M794.9 430.5H1320.2M794.9 481.1H1320.2M794.9 531.7H1320.2M794.9 582.3H1320.2M794.9 632.9H1320.2M818 349.2V636.5M978 349.2V636.5M1138 349.2V636.5M1298.1 349.2V636.5" stroke="#EBEBEB" stroke-width="4.3" fill="none"/>
<g fill="none" stroke-width="4.2" stroke-linejoin="round" stroke-linecap="butt">
<polyline points="818,596.03 978,362.7 1138,441.06 1298.1,524.62" stroke="#619CFF"/>
<polyline points="818,594.41 978,360.67 1138,443.69 1298.1,525.63" stroke="#E76BF3"/>
<polyline points="818,609.26 978,405.2 1138,395.08 1298.1,514.86" stroke="#FF61CC"/>
<polyline points="818,614.65 978,369.78 1138,458.84 1298.1,481.13" stroke="#F564E3"/>
<polyline points="818,617.16 978,374.84 1138,450.74 1298.1,481.66" stroke="#FF64B0"/>
<polyline points="818,616.64 978,379.56 1138,437.05 1298.1,491.15" stroke="#F8766D"/>
<polyline points="818,615.6 978,374.86 1138,445.21 1298.1,488.73" stroke="#F8766D"/>
<polyline points="818,621.57 978,393.89 1138,423.1 1298.1,485.84" stroke="#F8766D"/>
<polyline points="818,607.16 978,367.05 1138,445.48 1298.1,504.7" stroke="#F8766D"/>
<polyline points="818,616.16 978,393.15 1138,414.89 1298.1,500.2" stroke="#F8766D"/>
<polyline points="818,614.29 978,377.25 1138,436.68 1298.1,496.18" stroke="#F8766D"/>
<polyline points="818,619.52 978,405.75 1138,405.42 1298.1,493.7" stroke="#F8766D"/>
<polyline points="818,617.91 978,394.59 1138,415.59 1298.1,496.31" stroke="#F8766D"/>
<polyline points="818,617.41 978,383.13 1138,431.83 1298.1,492.02" stroke="#F8766D"/>
<polyline points="818,605.17 978,371.37 1138,434 1298.1,513.86" stroke="#F8766D"/>
<polyline points="818,619.51 978,382.74 1138,437.71 1298.1,484.44" stroke="#F8766D"/>
<polyline points="818,620.24 978,382.06 1138,441.66 1298.1,480.43" stroke="#F8766D"/>
<polyline points="818,621.5 978,385.67 1138,437.5 1298.1,479.73" stroke="#F8766D"/>
<polyline points="818,614.15 978,389.82 1138,416.52 1298.1,503.91" stroke="#F8766D"/>
<polyline points="818,614.46 978,384.91 1138,423.8 1298.1,501.23" stroke="#F8766D"/>
<polyline points="818,621.34 978,406.13 1138,407.8 1298.1,489.14" stroke="#F8766D"/>
<polyline points="818,616.54 978,378.71 1138,438.58 1298.1,490.57" stroke="#F8766D"/>
<polyline points="818,614.48 978,385.84 1138,422.46 1298.1,501.62" stroke="#F8766D"/>
<polyline points="818,621.34 978,391.5 1138,426.23 1298.1,485.33" stroke="#F8766D"/>
<polyline points="818,616.02 978,391.54 1138,416.77 1298.1,500.07" stroke="#F8766D"/>
<polyline points="818,623.37 978,407.14 1138,410.33 1298.1,483.55" stroke="#F8766D"/>
<polyline points="818,617.06 978,378.09 1138,441.33 1298.1,487.91" stroke="#F8766D"/>
<polyline points="818,617.12 978,392.18 1138,417.52 1298.1,497.58" stroke="#F8766D"/>
<polyline points="818,615.21 978,387.27 1138,421.45 1298.1,500.47" stroke="#F8766D"/>
<polyline points="818,608.88 978,387.19 1138,414.15 1298.1,514.18" stroke="#F8766D"/>
<polyline points="818,607.3 978,387.98 1138,411.75 1298.1,517.37" stroke="#F8766D"/>
<polyline points="818,616.89 978,417.34 1138,392.04 1298.1,498.12" stroke="#F8766D"/>
<polyline points="818,608.14 978,363.71 1138,456.81 1298.1,495.74" stroke="#F8766D"/>
<polyline points="818,615.31 978,410.26 1138,396.09 1298.1,502.74" stroke="#F8766D"/>
<polyline points="818,607.11 978,379.18 1138,423.4 1298.1,514.7" stroke="#E08B00"/>
<polyline points="818,606.66 978,396.04 1138,402.09 1298.1,519.61" stroke="#A3A500"/>
<polyline points="818,621.94 978,405.95 1138,409 1298.1,487.51" stroke="#E08B00"/>
<polyline points="818,611.92 978,382.58 1138,423.82 1298.1,506.07" stroke="#A3A500"/>
<polyline points="818,623.78 978,392.97 1138,430.26 1298.1,477.39" stroke="#A3A500"/>
<polyline points="818,617.47 978,382.66 1138,432.84 1298.1,491.44" stroke="#7CAE00"/>
<polyline points="818,605.59 978,385.98 1138,412.81 1298.1,520.03" stroke="#E08B00"/>
<polyline points="818,616.07 978,385.14 1138,425.97 1298.1,497.22" stroke="#B79F00"/>
<polyline points="818,607.59 978,391.51 1138,407.8 1298.1,517.51" stroke="#A3A500"/>
<polyline points="818,612.62 978,379.25 1138,430.12 1298.1,502.4" stroke="#E08B00"/>
<polyline points="818,612.05 978,379.5 1138,428.85 1298.1,504" stroke="#A3A500"/>
<polyline points="818,622.29 978,387.83 1138,435.43 1298.1,478.84" stroke="#A3A500"/>
<polyline points="818,616.58 978,396.38 1138,411.54 1298.1,499.9" stroke="#A3A500"/>
<polyline points="818,610.81 978,371.58 1138,441.85 1298.1,500.17" stroke="#A3A500"/>
<polyline points="818,617.58 978,378.24 1138,442.46 1298.1,486.12" stroke="#A3A500"/>
<polyline points="818,609.74 978,375.95 1138,431.65 1298.1,507.06" stroke="#A3A500"/>
<polyline points="818,615.11 978,380.06 1138,432.88 1298.1,496.34" stroke="#E08B00"/>
<polyline points="818,621.55 978,399.4 1138,415.68 1298.1,487.77" stroke="#E08B00"/>
<polyline points="818,610.72 978,378.57 1138,428.55 1298.1,506.55" stroke="#0CB702"/>
<polyline points="818,609.08 978,372.27 1138,437.49 1298.1,505.56" stroke="#00BA38"/>
<polyline points="818,605.09 978,371.48 1138,433.71 1298.1,514.11" stroke="#00BA38"/>
<polyline points="818,615.11 978,383.74 1138,426.62 1298.1,498.93" stroke="#00BA38"/>
<polyline points="818,605.61 978,376.32 1138,426.25 1298.1,516.21" stroke="#00BA38"/>
<polyline points="818,618.32 978,380.08 1138,440.25 1298.1,485.76" stroke="#39B600"/>
<polyline points="818,606.55 978,380.01 1138,421.63 1298.1,516.21" stroke="#0CB702"/>
<polyline points="818,617.47 978,376.27 1138,447.44 1298.1,483.21" stroke="#00BA38"/>
<polyline points="818,613.92 978,387.9 1138,418.79 1298.1,503.79" stroke="#00BA38"/>
<polyline points="818,619.98 978,392.01 1138,422.58 1298.1,489.83" stroke="#0CB702"/>
<polyline points="818,616.21 978,380.83 1138,433.61 1298.1,493.75" stroke="#0CB702"/>
<polyline points="818,616.55 978,377.19 1138,442.06 1298.1,488.6" stroke="#0CB702"/>
<polyline points="818,616.37 978,383.84 1138,428.61 1298.1,495.58" stroke="#00BA38"/>
<polyline points="818,609.34 978,379.2 1138,425.82 1298.1,510.04" stroke="#00BA38"/>
<polyline points="818,617.84 978,384.68 1138,429.99 1298.1,491.9" stroke="#00BA38"/>
<polyline points="818,613.45 978,375.93 1138,437.7 1298.1,497.32" stroke="#00BA38"/>
<polyline points="818,607.46 978,384.92 1138,415.75 1298.1,516.27" stroke="#00BA38"/>
<polyline points="818,618.59 978,377.59 1138,447.84 1298.1,480.38" stroke="#0CB702"/>
<polyline points="818,611.72 978,377.48 1138,431.83 1298.1,503.37" stroke="#39B600"/>
<polyline points="818,615.75 978,384.61 1138,426.28 1298.1,497.76" stroke="#00BA38"/>
<polyline points="818,621.5 978,400.45 1138,414.33 1298.1,488.11" stroke="#00BA38"/>
<polyline points="818,610.15 978,376.81 1138,430.73 1298.1,506.71" stroke="#0CB702"/>
<polyline points="818,618.88 978,388.92 1138,425.1 1298.1,491.5" stroke="#0CB702"/>
<polyline points="818,613.55 978,381.45 1138,427.87 1298.1,501.53" stroke="#0CB702"/>
<polyline points="818,612.41 978,387.1 1138,418.01 1298.1,506.89" stroke="#00BA38"/>
<polyline points="818,616.89 978,403.4 1138,404.31 1298.1,499.8" stroke="#0CB702"/>
<polyline points="818,615.08 978,384.36 1138,425.58 1298.1,499.37" stroke="#F8766D"/>
<polyline points="818,610.87 978,378.53 1138,428.82 1298.1,506.18" stroke="#F8766D"/>
<polyline points="818,618.82 978,390.7 1138,422.34 1298.1,492.55" stroke="#F8766D"/>
</g>
<rect x="794.9" y="349.2" width="525.3" height="287.3" fill="none" stroke="#333333" stroke-width="2.3"/>
<path d="M785.6 379.9H794.9M785.6 430.5H794.9M785.6 481.1H794.9M785.6 531.7H794.9M785.6 582.3H794.9M785.6 632.9H794.9M818 636.5V641.7M978 636.5V641.7M1138 636.5V641.7M1298.1 636.5V641.7" stroke="#333333" stroke-width="4.4" fill="none"/>
<g font-size="41.6" fill="#000000" letter-spacing="-1.7" stroke="#000000" stroke-width="0.6">
<text x="779.4" y="395.6" text-anchor="end">1.0</text>
<text x="779.4" y="443.8" text-anchor="end">0.5</text>
<text x="779.4" y="491.2" text-anchor="end">0.0</text>
<text x="779.4" y="547" text-anchor="end"><tspan letter-spacing="0.3">−</tspan>0.5</text>
<text x="779.4" y="594.4" text-anchor="end"><tspan letter-spacing="0.3">−</tspan>1.0</text>
<text x="779.4" y="642.2" text-anchor="end"><tspan letter-spacing="0.3">−</tspan>1.5</text>
</g>
<g font-size="41.6" fill="#000000" stroke="#000000" stroke-width="0.6">
<text x="791" y="678.7">S1</text>
<text x="947.7" y="678.7">S2</text>
<text x="1109.8" y="678.7">S3</text>
<text x="1271.3" y="678.7">S4</text>
</g>
</g>
<g class="panel" id="p6">
<rect x="1417" y="349.2" width="526" height="287.3" fill="#FFFFFF"/>
<path d="M1417 381H1943M1417 437.1H1943M1417 493.2H1943M1417 549.3H1943M1417 605.4H1943M1439.8 349.2V636.5M1599.9 349.2V636.5M1759.8 349.2V636.5M1919.7 349.2V636.5" stroke="#EBEBEB" stroke-width="4.3" fill="none"/>
<g fill="none" stroke-width="4.2" stroke-linejoin="round" stroke-linecap="butt">
<polyline points="1439.8,573.98 1599.9,360.54 1759.8,440.73 1919.7,597.55" stroke="#00BFC4"/>
<polyline points="1439.8,578.47 1599.9,373.53 1759.8,422.13 1919.7,598.67" stroke="#00BAE0"/>
<polyline points="1439.8,582.96 1599.9,372.12 1759.8,423.54 1919.7,594.18" stroke="#00B4F0"/>
<polyline points="1439.8,580.72 1599.9,366.2 1759.8,431.7 1919.7,594.18" stroke="#00BFC4"/>
<polyline points="1439.8,623.65 1599.9,367.24 1759.8,441.59 1919.7,540.32" stroke="#B79F00"/>
<polyline points="1439.8,600.75 1599.9,377.84 1759.8,416.91 1919.7,577.3" stroke="#00B4F0"/>
<polyline points="1439.8,589.51 1599.9,365.65 1759.8,432.22 1919.7,585.42" stroke="#00B4F0"/>
<polyline points="1439.8,601.42 1599.9,367.55 1759.8,430.8 1919.7,573.04" stroke="#00B4F0"/>
<polyline points="1439.8,600.31 1599.9,368.65 1759.8,429.01 1919.7,574.82" stroke="#00B4F0"/>
<polyline points="1439.8,590.05 1599.9,378.33 1759.8,415.52 1919.7,588.9" stroke="#00B4F0"/>
<polyline points="1439.8,599.35 1599.9,367.18 1759.8,430.96 1919.7,575.31" stroke="#9590FF"/>
<polyline points="1439.8,589.06 1599.9,372.67 1759.8,422.63 1919.7,588.44" stroke="#00B4F0"/>
<polyline points="1439.8,594 1599.9,375.47 1759.8,419.2 1919.7,584.13" stroke="#00B4F0"/>
<polyline points="1439.8,598.38 1599.9,369.4 1759.8,427.67 1919.7,577.35" stroke="#00B4F0"/>
<polyline points="1439.8,599.18 1599.9,376.97 1759.8,417.78 1919.7,578.86" stroke="#9590FF"/>
<polyline points="1439.8,589.76 1599.9,371.84 1759.8,423.72 1919.7,587.47" stroke="#9590FF"/>
<polyline points="1439.8,605.44 1599.9,373.65 1759.8,423.2 1919.7,570.51" stroke="#00B4F0"/>
<polyline points="1439.8,588.84 1599.9,376.01 1759.8,418.38 1919.7,589.57" stroke="#00B4F0"/>
<polyline points="1439.8,601.71 1599.9,372.89 1759.8,423.44 1919.7,574.76" stroke="#00B4F0"/>
<polyline points="1439.8,596.84 1599.9,374.41 1759.8,420.78 1919.7,580.77" stroke="#C77CFF"/>
<polyline points="1439.8,605.98 1599.9,364.4 1759.8,436.67 1919.7,565.75" stroke="#FF61CC"/>
<polyline points="1439.8,604.71 1599.9,384.87 1759.8,409.18 1919.7,574.04" stroke="#E76BF3"/>
<polyline points="1439.8,603.27 1599.9,376.19 1759.8,419.42 1919.7,573.92" stroke="#F564E3"/>
<polyline points="1439.8,605.5 1599.9,365.53 1759.8,434.79 1919.7,566.98" stroke="#B983FF"/>
<polyline points="1439.8,599.32 1599.9,369.12 1759.8,428.19 1919.7,576.17" stroke="#F564E3"/>
<polyline points="1439.8,607.64 1599.9,372.85 1759.8,424.85 1919.7,567.45" stroke="#C77CFF"/>
<polyline points="1439.8,608.02 1599.9,384.6 1759.8,410.19 1919.7,569.99" stroke="#F564E3"/>
<polyline points="1439.8,596.95 1599.9,364.26 1759.8,434.88 1919.7,576.71" stroke="#F564E3"/>
<polyline points="1439.8,602.13 1599.9,379.76 1759.8,414.76 1919.7,576.14" stroke="#B983FF"/>
<polyline points="1439.8,592.95 1599.9,375.18 1759.8,419.51 1919.7,585.17" stroke="#F564E3"/>
<polyline points="1439.8,612.49 1599.9,379.06 1759.8,418.18 1919.7,563.07" stroke="#E76BF3"/>
<polyline points="1439.8,593.78 1599.9,374.98 1759.8,419.81 1919.7,584.23" stroke="#E76BF3"/>
<polyline points="1439.8,612.51 1599.9,383.19 1759.8,413.1 1919.7,564" stroke="#E76BF3"/>
<polyline points="1439.8,592.9 1599.9,367.61 1759.8,429.6 1919.7,582.69" stroke="#E76BF3"/>
<polyline points="1439.8,586.42 1599.9,379.57 1759.8,414.09 1919.7,592.73" stroke="#F564E3"/>
<polyline points="1439.8,607.32 1599.9,370.19 1759.8,428.46 1919.7,566.82" stroke="#F564E3"/>
<polyline points="1439.8,592.69 1599.9,386.31 1759.8,406.3 1919.7,587.49" stroke="#E76BF3"/>
<polyline points="1439.8,609.83 1599.9,369.29 1759.8,430.57 1919.7,563.11" stroke="#E76BF3"/>
<polyline points="1439.8,595.4 1599.9,375.78 1759.8,418.9 1919.7,582.72" stroke="#B983FF"/>
<polyline points="1439.8,590.02 1599.9,368.6 1759.8,428.09 1919.7,586.09" stroke="#C77CFF"/>
<polyline points="1439.8,625.13 1599.9,378.52 1759.8,425.16 1919.7,543.99" stroke="#E76BF3"/>
<polyline points="1439.8,594.3 1599.9,376.15 1759.8,418.35 1919.7,583.99" stroke="#E76BF3"/>
<polyline points="1439.8,589.76 1599.9,371.01 1759.8,424.82 1919.7,587.21" stroke="#C77CFF"/>
<polyline points="1439.8,615.99 1599.9,374.6 1759.8,425.47 1919.7,556.74" stroke="#C77CFF"/>
<polyline points="1439.8,623.37 1599.9,382.87 1759.8,418.27 1919.7,548.29" stroke="#F564E3"/>
<polyline points="1439.8,591.02 1599.9,389.64 1759.8,402.64 1919.7,589.5" stroke="#E76BF3"/>
<polyline points="1439.8,589.22 1599.9,372.83 1759.8,422.42 1919.7,588.33" stroke="#B983FF"/>
<polyline points="1439.8,603.62 1599.9,375.56 1759.8,420.29 1919.7,573.32" stroke="#F564E3"/>
<polyline points="1439.8,580.89 1599.9,383.61 1759.8,409.73 1919.7,598.56" stroke="#FF61CC"/>
<polyline points="1439.8,602.9 1599.9,378.33 1759.8,416.65 1919.7,574.92" stroke="#E76BF3"/>
<polyline points="1439.8,609.08 1599.9,367.79 1759.8,432.52 1919.7,563.4" stroke="#F564E3"/>
<polyline points="1439.8,612.8 1599.9,364.97 1759.8,438.44 1919.7,556.6" stroke="#B983FF"/>
<polyline points="1439.8,599.49 1599.9,385.42 1759.8,407.77 1919.7,580.11" stroke="#B983FF"/>
<polyline points="1439.8,607.25 1599.9,366.05 1759.8,434.54 1919.7,564.97" stroke="#E76BF3"/>
<polyline points="1439.8,588.47 1599.9,370.37 1759.8,425.67 1919.7,588.29" stroke="#FF61CC"/>
<polyline points="1439.8,590.28 1599.9,372.73 1759.8,422.57 1919.7,587.22" stroke="#E76BF3"/>
<polyline points="1439.8,589.72 1599.9,366.08 1759.8,431.61 1919.7,585.39" stroke="#F564E3"/>
<polyline points="1439.8,601.02 1599.9,370.42 1759.8,426.67 1919.7,574.69" stroke="#F564E3"/>
<polyline points="1439.8,623.19 1599.9,372.11 1759.8,433.22 1919.7,544.27" stroke="#E76BF3"/>
<polyline points="1439.8,605.15 1599.9,395.03 1759.8,398.27 1919.7,574.35" stroke="#C77CFF"/>
<polyline points="1439.8,599.35 1599.9,370.08 1759.8,426.86 1919.7,576.51" stroke="#B983FF"/>
<polyline points="1439.8,593.85 1599.9,365.62 1759.8,432.51 1919.7,580.82" stroke="#E76BF3"/>
<polyline points="1439.8,605.04 1599.9,370.54 1759.8,427.35 1919.7,569.87" stroke="#FF61CC"/>
<polyline points="1439.8,584.63 1599.9,368.5 1759.8,428.28 1919.7,591.4" stroke="#B983FF"/>
<polyline points="1439.8,592.86 1599.9,369.64 1759.8,426.78 1919.7,583.52" stroke="#B983FF"/>
<polyline points="1439.8,608.01 1599.9,372.72 1759.8,425.14 1919.7,566.93" stroke="#F564E3"/>
<polyline points="1439.8,592.42 1599.9,376.47 1759.8,417.86 1919.7,586.05" stroke="#C77CFF"/>
<polyline points="1439.8,586.58 1599.9,370.56 1759.8,425.44 1919.7,590.22" stroke="#FF61CC"/>
<polyline points="1439.8,608.2 1599.9,374.69 1759.8,422.53 1919.7,567.38" stroke="#E76BF3"/>
<polyline points="1439.8,596.26 1599.9,400.45 1759.8,391.9 1919.7,584.19" stroke="#F564E3"/>
<polyline points="1439.8,608.29 1599.9,368.18 1759.8,431.68 1919.7,564.65" stroke="#B983FF"/>
<polyline points="1439.8,610.18 1599.9,381.22 1759.8,414.77 1919.7,566.62" stroke="#F564E3"/>
<polyline points="1439.8,586.76 1599.9,369.93 1759.8,426.28 1919.7,589.84" stroke="#C77CFF"/>
<polyline points="1439.8,601.79 1599.9,375.45 1759.8,420.1 1919.7,575.46" stroke="#F564E3"/>
<polyline points="1439.8,603.65 1599.9,364.51 1759.8,435.84 1919.7,568.81" stroke="#F564E3"/>
<polyline points="1439.8,604.93 1599.9,371.97 1759.8,425.35 1919.7,570.55" stroke="#FF61CC"/>
<polyline points="1439.8,611.88 1599.9,376.8 1759.8,420.89 1919.7,563.22" stroke="#B983FF"/>
<polyline points="1439.8,604.87 1599.9,369.83 1759.8,428.32 1919.7,569.78" stroke="#E76BF3"/>
<polyline points="1439.8,611.39 1599.9,372.65 1759.8,426.32 1919.7,562.44" stroke="#FF61CC"/>
<polyline points="1439.8,600.63 1599.9,382.16 1759.8,411.67 1919.7,578.34" stroke="#E76BF3"/>
<polyline points="1439.8,585.19 1599.9,385.87 1759.8,406.88 1919.7,594.85" stroke="#F564E3"/>
<polyline points="1439.8,606.04 1599.9,365.81 1759.8,434.53 1919.7,566.42" stroke="#E76BF3"/>
<polyline points="1439.8,602.87 1599.9,373.73 1759.8,422.55 1919.7,573.65" stroke="#F564E3"/>
<polyline points="1439.8,608.38 1599.9,370.02 1759.8,429.03 1919.7,565.37" stroke="#E76BF3"/>
<polyline points="1439.8,604.08 1599.9,385.75 1759.8,408.05 1919.7,574.91" stroke="#E76BF3"/>
<polyline points="1439.8,597.73 1599.9,370.7 1759.8,425.78 1919.7,578.59" stroke="#E76BF3"/>
<polyline points="1439.8,602.48 1599.9,367.94 1759.8,430.46 1919.7,571.92" stroke="#F564E3"/>
<polyline points="1439.8,617.93 1599.9,364.67 1759.8,441.8 1919.7,548.39" stroke="#E08B00"/>
<polyline points="1439.8,621.02 1599.9,371.81 1759.8,432.23 1919.7,547.74" stroke="#E08B00"/>
<polyline points="1439.8,615.27 1599.9,372.41 1759.8,428.24 1919.7,556.88" stroke="#DE8C00"/>
<polyline points="1439.8,615.66 1599.9,376.72 1759.8,422.44 1919.7,557.98" stroke="#DE8C00"/>
<polyline points="1439.8,600.39 1599.9,368.68 1759.8,428.99 1919.7,574.74" stroke="#DE8C00"/>
<polyline points="1439.8,610.86 1599.9,368.56 1759.8,432.02 1919.7,561.36" stroke="#DE8C00"/>
<polyline points="1439.8,616.03 1599.9,369.15 1759.8,433.44 1919.7,554.18" stroke="#E08B00"/>
<polyline points="1439.8,610.14 1599.9,370.3 1759.8,429.21 1919.7,563.14" stroke="#E08B00"/>
<polyline points="1439.8,602.99 1599.9,366.64 1759.8,432.47 1919.7,570.7" stroke="#E08B00"/>
<polyline points="1439.8,609.72 1599.9,364.54 1759.8,437.78 1919.7,560.76" stroke="#DE8C00"/>
<polyline points="1439.8,614.35 1599.9,371.76 1759.8,428.76 1919.7,557.93" stroke="#DE8C00"/>
<polyline points="1439.8,612.18 1599.9,369.04 1759.8,431.83 1919.7,559.75" stroke="#DE8C00"/>
<polyline points="1439.8,609.08 1599.9,361.65 1759.8,442.26 1919.7,559.82" stroke="#E08B00"/>
<polyline points="1439.8,607.81 1599.9,379.88 1759.8,415.78 1919.7,569.33" stroke="#F564E3"/>
<polyline points="1439.8,605.64 1599.9,370.9 1759.8,427 1919.7,569.25" stroke="#F8766D"/>
</g>
<rect x="1417" y="349.2" width="526" height="287.3" fill="none" stroke="#333333" stroke-width="2.3"/>
<path d="M1407.7 381H1417M1407.7 437.1H1417M1407.7 493.2H1417M1407.7 549.3H1417M1407.7 605.4H1417M1439.8 636.5V641.7M1599.9 636.5V641.7M1759.8 636.5V641.7M1919.7 636.5V641.7" stroke="#333333" stroke-width="4.4" fill="none"/>
<g font-size="41.6" fill="#000000" letter-spacing="-1.7" stroke="#000000" stroke-width="0.6">
<text x="1402.6" y="397.8" text-anchor="end">1.0</text>
<text x="1402.6" y="457.8" text-anchor="end">0.5</text>
<text x="1402.6" y="506.1" text-anchor="end">0.0</text>
<text x="1402.6" y="562.2" text-anchor="end"><tspan letter-spacing="0.3">−</tspan>0.5</text>
<text x="1402.6" y="622.2" text-anchor="end"><tspan letter-spacing="0.3">−</tspan>1.0</text>
</g>
<g font-size="41.6" fill="#000000" stroke="#000000" stroke-width="0.6">
<text x="1414.8" y="681.3">S1</text>
<text x="1571.6" y="681.3">S2</text>
<text x="1732.8" y="681.3">S3</text>
<text x="1893.5" y="681.3">S4</text>
</g>
</g>
<g id="pB">
<line x1="159.5" y1="1027.2" x2="1952.6" y2="1027.2" stroke="#333333" stroke-width="1.4" stroke-dasharray="25 25"/>
<line x1="159.5" y1="1367.5" x2="1952.6" y2="1367.5" stroke="#333333" stroke-width="1.4" stroke-dasharray="25 25"/>
<line x1="159.5" y1="1707.9" x2="1952.6" y2="1707.9" stroke="#333333" stroke-width="1.4" stroke-dasharray="25 25"/>
<path d="M450.8 2032.2V2065.3M854.3 2032.2V2065.3M1258 2032.2V2065.3M1661.4 2032.2V2065.3" stroke="#B3B3B3" stroke-width="3.7" fill="none"/>
<g fill="none" stroke-width="3.7" stroke-linejoin="miter">
<polyline points="450.8,1971.6 854.3,957.5 1258,1420 1661.4,1790.8" stroke="#E41A1C"/>
<polyline points="450.8,1992.8 854.3,1062.5 1258,1502.5 1661.4,1440.8" stroke="#377EB8"/>
<polyline points="450.8,1981.8 854.3,1209.2 1258,955.8 1661.4,1746.7" stroke="#4DAF4A"/>
<polyline points="450.8,1984.4 854.3,1158.8 1258,1156.5 1661.4,1323" stroke="#984EA3"/>
<polyline points="450.8,1981.3 854.3,1073.3 1258,1240 1661.4,1544.2" stroke="#FF7F00"/>
<polyline points="450.8,1972.2 854.3,1014.2 1258,1192.5 1661.4,1822.5" stroke="#F781BF"/>
</g>
<g fill="none" stroke-width="3.7">
<path d="M400.2 1961H501.4M400.2 1982.2H501.4M450.8 1961V1982.2M803.7 927H904.9M803.7 987H904.9M854.3 927V987M1207.4 1389H1308.6M1207.4 1452.2H1308.6M1258 1389V1452.2M1610.8 1766.7H1712M1610.8 1814.8H1712M1661.4 1766.7V1814.8" stroke="#E41A1C"/>
<path d="M400.2 1985.7H501.4M400.2 2000H501.4M450.8 1985.7V2000M803.7 1027.5H904.9M803.7 1095.8H904.9M854.3 1027.5V1095.8M1207.4 1462.8H1308.6M1207.4 1542.8H1308.6M1258 1462.8V1542.8M1610.8 1401.2H1712M1610.8 1480.2H1712M1661.4 1401.2V1480.2" stroke="#377EB8"/>
<path d="M400.2 1972.3H501.4M400.2 1991.3H501.4M450.8 1972.3V1991.3M803.7 1174.2H904.9M803.7 1245H904.9M854.3 1174.2V1245M1207.4 893.8H1308.6M1207.4 1017.8H1308.6M1258 893.8V1017.8M1610.8 1700.5H1712M1610.8 1793H1712M1661.4 1700.5V1793" stroke="#4DAF4A"/>
<path d="M400.2 1978.5H501.4M400.2 1990.3H501.4M450.8 1978.5V1990.3M803.7 1132.8H904.9M803.7 1185H904.9M854.3 1132.8V1185M1207.4 1121.7H1308.6M1207.4 1190.4H1308.6M1258 1121.7V1190.4M1610.8 1295H1712M1610.8 1352H1712M1661.4 1295V1352" stroke="#984EA3"/>
<path d="M400.2 1975H501.4M400.2 1987.5H501.4M450.8 1975V1987.5M803.7 1050.2H904.9M803.7 1095.3H904.9M854.3 1050.2V1095.3M1207.4 1218.8H1308.6M1207.4 1261.2H1308.6M1258 1218.8V1261.2M1610.8 1528.8H1712M1610.8 1561.7H1712M1661.4 1528.8V1561.7" stroke="#FF7F00"/>
<path d="M400.2 1964H501.4M400.2 1980.3H501.4M450.8 1964V1980.3M803.7 992.8H904.9M803.7 1035H904.9M854.3 992.8V1035M1207.4 1170.2H1308.6M1207.4 1212H1308.6M1258 1170.2V1212M1610.8 1802.2H1712M1610.8 1844.7H1712M1661.4 1802.2V1844.7" stroke="#F781BF"/>
</g>
<g fill="none" stroke-width="3.7" stroke-linejoin="miter">
<polyline points="185,847.5 220,757.5 255,799.2 290.8,831.7" stroke="#E41A1C"/>
<polyline points="190.8,940.8 225.3,859.2 261.3,898 296.7,892.8" stroke="#377EB8"/>
<polyline points="190.8,1041.7 225.8,974.2 261.3,951.7 296.3,1020.8" stroke="#4DAF4A"/>
<polyline points="190.8,1130 225.3,1058.3 261.3,1057.8 296.3,1072.5" stroke="#984EA3"/>
<polyline points="190.8,1230.8 225.3,1150.8 261.3,1165.8 296.3,1192.5" stroke="#FF7F00"/>
<polyline points="196.3,1329.2 231.2,1245.8 266.7,1261.3 302,1316.3" stroke="#F781BF"/>
</g>
<g font-size="50" fill="#000000" stroke="#000000" stroke-width="0.5">
<text x="331.9" y="817">Cluster 1</text>
<text x="568.5" y="817">Z2O3</text>
<text x="337.1" y="913.8">Cluster 2</text>
<text x="574.8" y="913.8">Z2B3</text>
<text x="337.1" y="1010.4">Cluster 3</text>
<text x="574.8" y="1010.4">Z3A2</text>
<text x="337.1" y="1107">Cluster 4</text>
<text x="574.8" y="1107">Z3A2</text>
<text x="337.1" y="1203.8">Cluster 5</text>
<text x="574.8" y="1203.8">Z2A3</text>
<text x="342.6" y="1300.6">Cluster 6</text>
<text x="580" y="1300.6">Z2A3</text>
</g>
<rect x="159.5" y="724.8" width="1793.1" height="1323.8" fill="none" stroke="#000000" stroke-width="3.1"/>
<g font-size="51" fill="#000000" stroke="#000000" stroke-width="0.5">
<text x="143.2" y="1049" text-anchor="end">6</text>
<text x="143.2" y="1389.3" text-anchor="end">4</text>
<text x="143.2" y="1729.7" text-anchor="end">2</text>
<text x="143.2" y="2070" text-anchor="end">0</text>
<text x="450.8" y="2127" text-anchor="middle">S1</text>
<text x="854.3" y="2127" text-anchor="middle">S2</text>
<text x="1258" y="2127" text-anchor="middle">S3</text>
<text x="1661.4" y="2127" text-anchor="middle">S4</text>
</g>
<text font-size="58.5" fill="#000000" stroke="#000000" stroke-width="0.5" transform="translate(62,1626) rotate(-90)">AGRPH-Mean(cm/day)</text>
</g>
<g font-size="40" font-weight="bold" fill="#000000">
<text transform="translate(14.3,35) scale(1.07,1)">A</text>
<text x="12.2" y="747">B</text>
</g>
</svg></body></html>
